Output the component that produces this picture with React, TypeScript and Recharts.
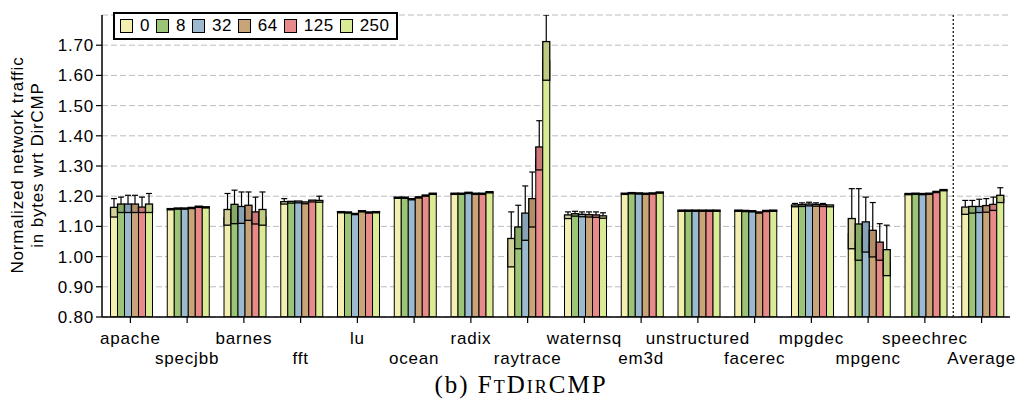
import React from 'react';
import { BarChart, Bar, XAxis, YAxis, CartesianGrid, ReferenceLine } from 'recharts';

const categories = ['apache','specjbb','barnes','fft','lu','ocean','radix','raytrace','waternsq','em3d','unstructured','facerec','mpgdec','mpgenc','speechrec','Average'];
const seriesNames = ['0','8','32','64','125','250'];
const seriesColors = ['#f3efb0','#9cc477','#9bbad0','#c9a479','#e98a8a','#d9eb94'];
const yTicks = [0.8,0.9,1.0,1.1,1.2,1.3,1.4,1.5,1.6,1.7];
const YMIN = 0.8;
const YMAX = 1.8;

// mean (bar), box half-height, whisker top (0 = none)
const mean0 = [1.147,1.157,1.130,1.178,1.147,1.195,1.208,1.013,1.132,1.208,1.152,1.152,1.168,1.076,1.207,1.152];
const box0  = [0.016,0.002,0.026,0.004,0.002,0.002,0.002,0.047,0.006,0.002,0.002,0.002,0.003,0.050,0.002,0.012];
const wsk0  = [1.192,0,1.209,1.192,0,0,0,1.148,1.148,0,0,0,1.176,1.225,0,1.186];

const mean1 = [1.160,1.159,1.141,1.180,1.146,1.195,1.208,1.062,1.138,1.210,1.152,1.151,1.169,1.048,1.208,1.155];
const box1  = [0.014,0.002,0.032,0.003,0.002,0.002,0.002,0.036,0.004,0.002,0.002,0.002,0.003,0.060,0.002,0.011];
const wsk1  = [1.197,0,1.220,0,0,0,0,1.170,1.150,0,0,0,1.178,1.225,0,1.186];

const mean2 = [1.160,1.159,1.138,1.181,1.141,1.190,1.211,1.099,1.136,1.209,1.152,1.150,1.171,1.065,1.207,1.156];
const box2  = [0.014,0.002,0.028,0.003,0.002,0.002,0.002,0.045,0.004,0.002,0.002,0.002,0.003,0.050,0.002,0.010];
const wsk2  = [1.203,0,1.214,0,0,0,0,1.234,1.148,0,0,0,1.180,1.197,0,1.190];

const mean3 = [1.160,1.161,1.145,1.178,1.150,1.196,1.208,1.145,1.135,1.208,1.152,1.146,1.170,1.043,1.208,1.158];
const box3  = [0.014,0.002,0.025,0.003,0.002,0.002,0.002,0.047,0.004,0.002,0.002,0.002,0.003,0.044,0.002,0.011];
const wsk3  = [1.203,0,1.214,0,0,0,0,1.280,1.148,0,0,0,1.178,1.179,0,1.192];

const mean4 = [1.155,1.165,1.128,1.184,1.146,1.202,1.208,1.325,1.134,1.209,1.152,1.151,1.169,1.018,1.214,1.163];
const box4  = [0.009,0.002,0.020,0.003,0.002,0.002,0.002,0.038,0.004,0.002,0.002,0.002,0.003,0.030,0.002,0.010];
const wsk4  = [1.197,0,1.197,0,0,0,0,1.450,1.148,0,0,0,1.176,1.109,0,1.197];

const mean5 = [1.160,1.163,1.130,1.183,1.147,1.208,1.213,1.648,1.131,1.212,1.152,1.152,1.168,0.980,1.220,1.191];
const box5  = [0.014,0.002,0.026,0.003,0.002,0.002,0.002,0.064,0.004,0.002,0.002,0.002,0.003,0.043,0.002,0.012];
const wsk5  = [1.209,0,1.214,1.200,0,0,0,1.800,1.145,0,0,0,0,1.104,0,1.228];

const means = [mean0, mean1, mean2, mean3, mean4, mean5];
const boxes = [box0, box1, box2, box3, box4, box5];
const whiskers = [wsk0, wsk1, wsk2, wsk3, wsk4, wsk5];

const data = categories.map((name, ci) => {
  const row: any = { name };
  for (let s = 0; s < seriesNames.length; s++) {
    row['m' + s] = means[s][ci];
    row['b' + s] = boxes[s][ci];
    row['w' + s] = whiskers[s][ci];
  }
  return row;
});

const FONT = '"Liberation Sans", Arial, sans-serif';

const makeShape = (s: number) => (props: any) => {
  const { x, y, width, height, payload } = props;
  const m = payload['m' + s];
  const b = payload['b' + s];
  const w = payload['w' + s];
  if (!height || m <= YMIN) return <g />;
  const k = height / (m - YMIN);
  const base = y + height;
  const yOf = (v: number) => base - (v - YMIN) * k;
  const fill = seriesColors[s];
  const top = yOf(m + b);
  const bot = yOf(m - b);
  const cx = x + width / 2;
  return (
    <g>
      <rect x={x} y={y} width={width} height={height} fill={fill} stroke="#000" strokeWidth={1} />
      <rect x={x} y={top} width={width} height={Math.max(bot - top, 1)} fill={fill} stroke="#000" strokeWidth={1.3} />
      <rect x={x} y={top} width={width} height={Math.max(bot - top, 1)} fill="rgba(0,0,0,0.13)" />
      {w > 0 && (
        <g stroke="#000" strokeWidth={1.2}>
          <line x1={cx} y1={top} x2={cx} y2={yOf(w)} />
          <line x1={cx - 3} y1={yOf(w)} x2={cx + 3} y2={yOf(w)} />
        </g>
      )}
    </g>
  );
};

const XTick = (props: any) => {
  const { x, y, payload, index } = props;
  const dy = index % 2 === 0 ? 19 : 39;
  return (
    <text x={x} y={y + dy} textAnchor="middle" fontFamily={FONT} fontSize={17} letterSpacing={0.8} fill="#000">
      {payload.value}
    </text>
  );
};

const YTick = (props: any) => {
  const { x, y, payload } = props;
  return (
    <text x={x} y={y + 6} textAnchor="end" fontFamily={FONT} fontSize={17} letterSpacing={0.8} fill="#000">
      {Number(payload.value).toFixed(2)}
    </text>
  );
};

const LegendBox = () => (
  <div style={{ position: 'absolute', left: 113, top: 12, display: 'flex', alignItems: 'center', border: '2px solid #000', background: '#fff', padding: '2px 6px 2px 5px', height: 20, fontFamily: FONT, fontSize: 17, letterSpacing: 0.5, lineHeight: '20px', boxSizing: 'content-box' }}>
    {seriesNames.map((n, i) => (
      <div key={n} style={{ display: 'flex', alignItems: 'center', marginRight: i === seriesNames.length - 1 ? 0 : 6 }}>
        <div style={{ width: 11, height: 12, background: seriesColors[i], border: '1px solid #000', marginRight: 7 }} />
        <span>{n}</span>
      </div>
    ))}
  </div>
);

export default function App() {
  return (
    <div style={{ position: 'absolute', left: 0, top: 0, width: 1022, height: 410, background: '#fff' }}>
      <BarChart
        width={1022}
        height={410}
        data={data}
        margin={{ top: 15, right: 12, left: 0, bottom: 0 }}
        barCategoryGap="15%"
        barGap={0}
      >
        <CartesianGrid vertical={false} stroke="#bdbdbd" strokeDasharray="6 3" />
        <XAxis
          dataKey="name"
          interval={0}
          height={93}
          tickSize={6}
          tickLine={{ stroke: '#000', strokeWidth: 1.2 }}
          axisLine={{ stroke: '#000', strokeWidth: 1.5 }}
          tick={<XTick />}
        />
        <YAxis
          domain={[YMIN, YMAX]}
          ticks={yTicks}
          allowDataOverflow
          width={102}
          tickSize={6}
          tickLine={{ stroke: '#000', strokeWidth: 1.2 }}
          axisLine={{ stroke: '#000', strokeWidth: 1.5 }}
          tick={<YTick />}
        />
        {seriesNames.map((n, i) => (
          <Bar key={n} dataKey={'m' + i} name={n} fill={seriesColors[i]} isAnimationActive={false} shape={makeShape(i)} />
        ))}
        <ReferenceLine x="Average" position="start" stroke="#000" strokeDasharray="2 2" strokeWidth={1.2} />
      </BarChart>
      <LegendBox />
      <div style={{ position: 'absolute', left: 0, top: 0, width: 60, height: 330, pointerEvents: 'none' }}>
        <div style={{ position: 'absolute', left: 28, top: 165, transform: 'translate(-50%, -50%) rotate(-90deg)', whiteSpace: 'nowrap', fontFamily: FONT, fontSize: 17, letterSpacing: 0.8, lineHeight: '20px', textAlign: 'center' }}>
          Normalized network traffic<br />in bytes wrt DirCMP
        </div>
      </div>
      <div style={{ position: 'absolute', left: 0, width: 1022, top: 371, textAlign: 'center', paddingLeft: 20, boxSizing: 'border-box', fontFamily: '"Liberation Serif", "DejaVu Serif", serif', fontSize: 25, letterSpacing: 2, whiteSpace: 'nowrap' }}>
        (b) <span style={{ fontVariant: 'small-caps' }}>FtDirCMP</span>
      </div>
    </div>
  );
}
